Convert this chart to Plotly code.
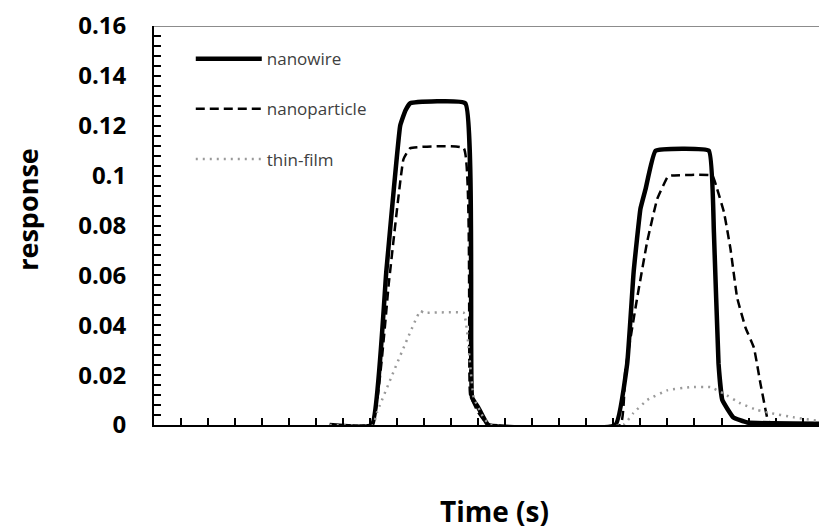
import plotly.graph_objects as go

# Time axis in tick units (one minor x tick per unit)
nanowire_t = [6.5, 8.06, 8.6, 9.11, 9.30, 9.48, 11.52, 11.77, 12.0, 12.37, 17.07,
              17.51, 17.75, 18.0, 18.19, 18.56, 20.53, 20.72, 20.89, 21.03, 21.44, 21.95, 25.2]
nanowire_r = [0.0, 0.0, 0.062, 0.120, 0.126, 0.129, 0.129, 0.011, 0.007, 0.0, 0.0,
              0.0246, 0.0615, 0.0867, 0.0946, 0.110, 0.110, 0.077, 0.0246, 0.010, 0.003, 0.001, 0.0005]

nanoparticle_t = [6.5, 8.07, 8.7, 9.23, 9.48, 11.46, 11.7, 12.0, 12.37, 17.26,
                  17.44, 17.88, 18.25, 18.62, 18.99, 19.11, 20.66, 20.84, 21.09, 21.33,
                  21.58, 21.89, 22.2, 22.44, 22.69, 22.81, 25.2]
nanoparticle_r = [0.0, 0.0, 0.058, 0.1065, 0.111, 0.111, 0.012, 0.005, 0.0, 0.0,
                  0.0218, 0.051, 0.0735, 0.0906, 0.0992, 0.100, 0.100, 0.0946, 0.0854, 0.0708,
                  0.051, 0.039, 0.031, 0.0167, 0.003, 0.0, 0.0]

thinfilm_t = [6.5, 8.11, 8.25, 9.85, 10.0, 11.46, 11.58, 11.83, 12.19, 12.44, 17.37,
              17.74, 18.25, 18.99, 19.85, 20.59, 21.07, 21.7, 22.32, 22.81, 23.56, 24.78, 25.2]
thinfilm_r = [0.0, 0.0, 0.005, 0.0457, 0.045, 0.045, 0.038, 0.011, 0.003, 0.0, 0.0,
              0.0048, 0.010, 0.0139, 0.0152, 0.0152, 0.0127, 0.0087, 0.006, 0.0048, 0.0033, 0.0013, 0.0008]

y_ticks = [0, 0.02, 0.04, 0.06, 0.08, 0.1, 0.12, 0.14, 0.16]
y_tick_labels = ["0", "0.02", "0.04", "0.06", "0.08", "0.1", "0.12", "0.14", "0.16"]

FONT = "Open Sans"

fig = go.Figure()
fig.add_trace(go.Scatter(x=nanowire_t, y=nanowire_r, mode="lines", name="nanowire",
                         legendgroup="a",
                         line=dict(color="black", width=4.5, shape="spline", smoothing=0.3)))
fig.add_trace(go.Scatter(x=nanoparticle_t, y=nanoparticle_r, mode="lines", name="nanoparticle",
                         legendgroup="b",
                         line=dict(color="black", width=2.5, dash="9px,5px", shape="spline", smoothing=0.3)))
fig.add_trace(go.Scatter(x=thinfilm_t, y=thinfilm_r, mode="lines", name="thin-film",
                         legendgroup="c",
                         line=dict(color="#9a9a9a", width=2.5, dash="2px,5px", shape="spline", smoothing=0.3)))

fig.add_shape(type="line", xref="paper", yref="y", x0=0, x1=1, y0=0.16, y1=0.16,
              line=dict(color="#8c8c8c", width=2), layer="below")

fig.add_annotation(text="<b>response</b>", textangle=-90, xref="paper", yref="paper",
                   x=-0.187, y=0.541, xanchor="center", yanchor="middle", showarrow=False,
                   borderpad=0, font=dict(family=FONT, size=27, color="black"))

fig.update_layout(
    width=827, height=529,
    margin=dict(l=146, r=0, t=14, b=112),
    paper_bgcolor="white", plot_bgcolor="white",
    font=dict(family=FONT, color="black"),
    showlegend=True,
    legend=dict(x=0.054, y=0.962, xanchor="left", yanchor="top",
                font=dict(family=FONT, size=17, color="#404040"),
                tracegroupgap=25, itemwidth=66, bgcolor="rgba(0,0,0,0)"),
    xaxis=dict(range=[0, 25.2], showgrid=False, zeroline=False,
               showline=True, linecolor="black", linewidth=2,
               ticks="inside", ticklen=7, tickwidth=1.5, tickcolor="black",
               dtick=1, tick0=0, showticklabels=False,
               title=dict(text="<b>Time (s)</b>", font=dict(family=FONT, size=28), standoff=76)),
    yaxis=dict(range=[0, 0.16], showgrid=False, zeroline=False,
               showline=True, linecolor="black", linewidth=2,
               ticks="inside", ticklen=7, tickwidth=1.5, tickcolor="black",
               tickvals=y_ticks, ticktext=["<b>%s</b>" % t for t in y_tick_labels],
               tickfont=dict(family=FONT, size=24), ticklabelstandoff=21,
               ticklabeloverflow="allow",
               minor=dict(dtick=0.004, ticks="inside", ticklen=7, tickwidth=1.5, tickcolor="black"),
               title=dict(text="")),
)

fig.write_html("out.html")
